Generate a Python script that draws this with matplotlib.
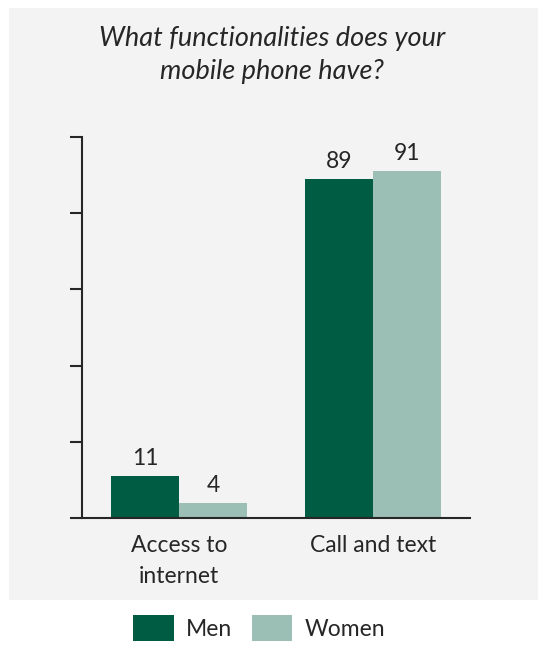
import matplotlib
matplotlib.use("Agg")
import matplotlib.pyplot as plt
import numpy as np
from matplotlib.patches import Rectangle

categories = ["Access to\ninternet", "Call and text"]
men = [11, 89]
women = [4, 91]
series_names = ["Men", "Women"]

dark_green = "#005c42"
light_green = "#9bbfb4"
text_col = "#262626"

plt.rcParams['font.family'] = ['Lato', 'DejaVu Sans']

fig = plt.figure(figsize=(5.38, 6.46), dpi=100)
# gray panel behind the chart
fig.patches.append(Rectangle((9 / 538, 46 / 646), 1 - 9 / 538, 1 - 8 / 646 - 46 / 646,
                             transform=fig.transFigure, facecolor="#f3f3f3",
                             edgecolor="none", zorder=-10))

ax = fig.add_axes([82 / 538, 128 / 646, 388 / 538, 381 / 646])
ax.set_facecolor("none")

x = np.arange(len(categories))
w = 0.35
b1 = ax.bar(x - w / 2, men, w, color=dark_green, label=series_names[0])
b2 = ax.bar(x + w / 2, women, w, color=light_green, label=series_names[1])

for bars in (b1, b2):
    for rect in bars:
        h = rect.get_height()
        ax.annotate(f"{h:g}", (rect.get_x() + rect.get_width() / 2, h),
                    xytext=(0, 5), textcoords="offset points",
                    ha="center", va="bottom", fontsize=16.5, color=text_col)

ax.set_xlim(-0.5, 1.5)
ax.set_ylim(0, 100)
ax.set_yticks(np.arange(0, 101, 20))
ax.set_yticklabels([])
ax.set_xticks(x)
ax.set_xticklabels(categories, fontsize=16.5, color=text_col, linespacing=1.6)
ax.tick_params(axis="x", length=0, pad=12)
ax.tick_params(axis="y", length=9, width=1.5, color="#262626")
for s in ("top", "right"):
    ax.spines[s].set_visible(False)
for s in ("left", "bottom"):
    ax.spines[s].set_linewidth(1.5)
    ax.spines[s].set_color("#262626")

fig.text(0.505, 1 - 55 / 646, "What functionalities does your\nmobile phone have?",
         ha="center", va="center", fontsize=19.5, style="italic", color=text_col,
         linespacing=1.4)

fig.legend(handles=[b1, b2], loc="center", bbox_to_anchor=(0.482, 1 - 628 / 646),
           ncol=2, frameon=False, fontsize=16.5, handlelength=1.75, handleheight=1.4,
           columnspacing=0.85, handletextpad=0.55, labelcolor=text_col)

fig.savefig("out.png", dpi=100)
